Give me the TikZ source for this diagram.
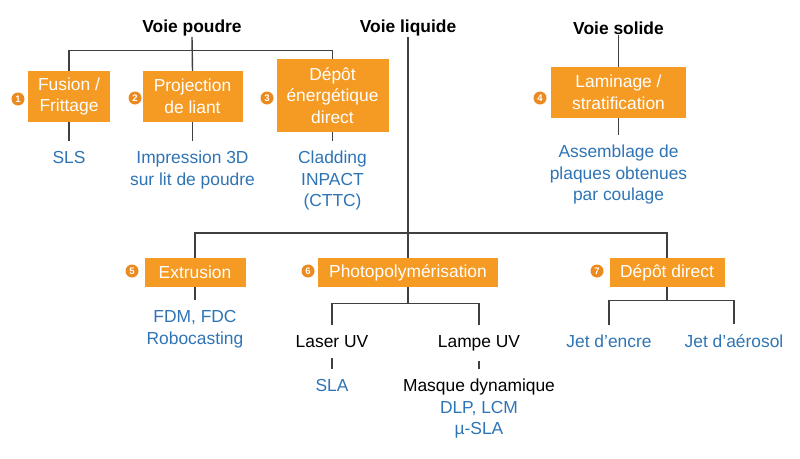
\documentclass[tikz,border=0pt]{standalone}
\usepackage{fontspec}
\setmainfont{Liberation Sans}
\definecolor{boxorange}{HTML}{F59A23}
\definecolor{numorange}{HTML}{EB8A1E}
\definecolor{labelblue}{HTML}{2E74B5}
\definecolor{linegray}{HTML}{404040}
\begin{document}
\begin{tikzpicture}[x=1pt,y=-1pt,
  every node/.style={font=\fontsize{17.4}{21.5}\selectfont},
  title/.style={font=\fontsize{17.4}{21}\selectfont\bfseries, inner sep=0.5pt},
  obox/.style={fill=boxorange, text=white, align=center, inner sep=0pt},
  num/.style={circle, fill=numorange, text=white, minimum size=13pt, inner sep=0pt,
    font=\fontsize{9.5}{9.5}\selectfont\bfseries},
  lbl/.style={anchor=base, align=center, text=labelblue, inner xsep=0pt, inner ysep=10pt,
    font=\fontsize{17.4}{21.5}\selectfont},
  blk/.style={lbl, text=black},
  conn/.style={draw=linegray, line width=1.4pt}
]
\path[use as bounding box] (0,0) rectangle (800,458);

% titles
\node[title] (tp) at (192,28) {Voie poudre};
\node[title] (tl) at (408,28) {Voie liquide};
\node[title] (ts) at (618.5,28) {Voie solide};

% powder route
\node[obox, minimum width=82pt, minimum height=51pt] (b1) at (69,96.5) {Fusion /\\Frittage};
\node[obox, minimum width=100pt, minimum height=51pt] (b2) at (192.5,96.5) {Projection\\de liant};
\node[obox, minimum width=112pt, minimum height=73pt] (b3) at (332.5,95.5) {Dépôt\\énergétique\\direct};
\node[num] (n1) at (18,99) {1};
\node[num] (n2) at (135,98) {2};
\node[num] (n3) at (267,98) {3};

% anchor=base of a multi-line node is the baseline of its last line
\node[lbl] (sls) at (69,163.5) {SLS};
\node[lbl] (imp) at (192.5,185) {Impression 3D\\sur lit de poudre};
\node[lbl] (clad) at (332.5,206.5) {Cladding\\INPACT\\(CTTC)};

\coordinate (cp) at (192.5,50.5);
\draw[conn] (tp.south) -- (b2.north);
\draw[conn] (b1.north) |- (cp) -| (b3.north);
\draw[conn] (b1.south) -- (sls.north);
\draw[conn] (b2.south) -- (imp.north);
\draw[conn] (b3.south) -- (clad.north);

% solid route
\node[obox, minimum width=135pt, minimum height=51pt] (b4) at (618.5,92.5) {Laminage /\\stratification};
\node[num] (n4) at (540,98) {4};
\node[lbl] (assem) at (618.5,200.5) {Assemblage de\\plaques obtenues\\par coulage};
\draw[conn] (ts.south) -- (b4.north);
\draw[conn] (b4.south) -- (assem.north);

% liquid route
\node[obox, minimum width=101pt, minimum height=29pt] (b5) at (195,272.5) {Extrusion};
\node[obox, minimum width=180pt, minimum height=29pt] (b6) at (408,272.5) {Photopolymérisation};
\node[obox, minimum width=115pt, minimum height=29pt] (b7) at (667,272.5) {Dépôt direct};
\node[num] (n5) at (132,271) {5};
\node[num] (n6) at (308,271) {6};
\node[num] (n7) at (597,271) {7};

\coordinate (cl) at (408,233);
\draw[conn] (tl.south) -- (b6.north);
\draw[conn] (b5.north) |- (cl) -| (b7.north);

\node[lbl] (fdm) at (195,344) {FDM, FDC\\Robocasting};
\draw[conn] (b5.south) -- (fdm.north);

\node[blk] (laser) at (332,347.5) {Laser UV};
\node[blk] (lampe) at (479,347.5) {Lampe UV};
\node[lbl] (sla) at (332,391.5) {SLA};
\node[lbl] (masque) at (479,434.5) {{\color{black}Masque dynamique}\\DLP, LCM\\µ-SLA};
\coordinate (c6) at (408,303.5);
\draw[conn] (b6.south) -- (c6);
\draw[conn] (laser.north) |- (c6) -| (lampe.north);
\draw[conn] (laser.south) -- (sla.north);
\draw[conn] (lampe.south) -- (masque.north);

\node[lbl] (encre) at (609,347.5) {Jet d’encre};
\node[lbl] (aero) at (734,347.5) {Jet d’aérosol};
\coordinate (c7) at (667,300.5);
\draw[conn] (b7.south) -- (c7);
\draw[conn] (encre.north) |- (c7) -| (aero.north);
\end{tikzpicture}
\end{document}
